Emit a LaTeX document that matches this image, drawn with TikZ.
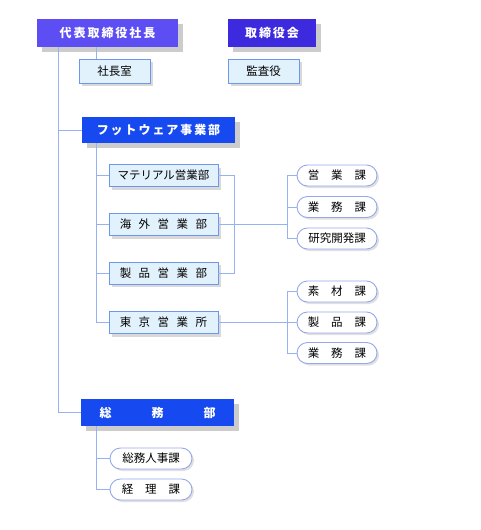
\documentclass[tikz,border=0pt]{standalone}
\usepackage{fontspec}
\setmainfont{Noto Sans CJK JP}
\newfontfamily\headfont[LetterSpace=16]{Noto Sans CJK JP}
\usetikzlibrary{shadows, positioning}

\definecolor{ceoViolet}{RGB}{92,78,242}
\definecolor{boardViolet}{RGB}{62,42,222}
\definecolor{divBlue}{RGB}{22,74,240}
\definecolor{paleFill}{RGB}{226,242,252}
\definecolor{paleEdge}{RGB}{110,150,234}
\definecolor{linkBlue}{RGB}{150,178,240}
\definecolor{roundEdge}{RGB}{150,168,236}

% gaps between spaced-out characters
\newcommand{\dgap}{\hspace{7.5pt}}
\newcommand{\sgap}{\hspace{12pt}}

\begin{document}
\begin{tikzpicture}[x=1pt, y=-1pt,
  headbox/.style={fill=#1, text=white, inner sep=0pt, minimum height=28pt,
    font=\headfont\bfseries\fontsize{12}{14}\selectfont,
    drop shadow={shadow xshift=5pt, shadow yshift=-5pt, fill=black!20, opacity=1}},
  palebox/.style={fill=paleFill, draw=paleEdge, line width=0.9pt, inner sep=0pt,
    minimum height=22pt, font=\fontsize{11.5}{13}\selectfont,
    drop shadow={shadow xshift=3pt, shadow yshift=-3pt, fill=black!15, opacity=1}},
  roundbox/.style={fill=white, draw=roundEdge, line width=0.9pt, rounded corners=10.5pt,
    inner sep=0pt, minimum width=80pt, minimum height=21pt, font=\fontsize{11.5}{13}\selectfont,
    drop shadow={shadow xshift=2pt, shadow yshift=-2pt, fill=black!12, opacity=1}},
  link/.style={draw=linkBlue, line width=0.9pt}]

\useasboundingbox (0,0) rectangle (480,530);

% Top management
\node[headbox=ceoViolet, minimum width=141pt] (ceo) at (107.5,32.5) {代表取締役社長};
\node[headbox=boardViolet, minimum width=88pt] (board) at (272,33) {取締役会};
\node[palebox, minimum width=71pt, minimum height=24pt] (office) at (114.5,71) {社長室};
\node[palebox, minimum width=71pt, minimum height=24pt] (audit) at (263.5,71) {監査役};

% Footwear division
\node[headbox=divBlue, minimum width=153pt, minimum height=26pt] (footwear) at (158.5,130) {フットウェア事業部};
\node[palebox, minimum width=109pt] (material) at (163.5,175.5) {マテリアル営業部};
\node[palebox, minimum width=109pt] (overseas) at (163.5,224.5) {海\dgap 外\dgap 営\dgap 業\dgap 部};
\node[palebox, minimum width=109pt] (product) at (163.5,273) {製\dgap 品\dgap 営\dgap 業\dgap 部};
\node[palebox, minimum width=109pt] (tokyo) at (163.5,322.5) {東\dgap 京\dgap 営\dgap 業\dgap 所};

% Sections
\node[roundbox] (salesA) at (337,175.5) {営\sgap 業\sgap 課};
\node[roundbox] (salesB) at (337,207) {業\sgap 務\sgap 課};
\node[roundbox] (salesC) at (337,238.5) {研究開発課};
\node[roundbox] (tokyoA) at (337,291.5) {素\sgap 材\sgap 課};
\node[roundbox] (tokyoB) at (337,322.5) {製\sgap 品\sgap 課};
\node[roundbox] (tokyoC) at (337,353) {業\sgap 務\sgap 課};

% General affairs
\node[headbox=divBlue, minimum width=153pt, minimum height=27pt] (general) at (157.5,412.5) {総\hspace{40pt}務\hspace{40pt}部};
\node[roundbox, minimum width=82pt] (hr) at (151,458.5) {総務人事課};
\node[roundbox, minimum width=82pt] (acct) at (151,489.5) {経\sgap 理\sgap 課};

% Draw links
\coordinate (trunk) at (58,0);
\coordinate (spine) at (96,0);
\coordinate (joinA) at (234,0);
\coordinate (joinB) at (287,0);

\draw[link] (ceo.south -| trunk) |- (general.west);
\draw[link] (trunk |- footwear.west) -- (footwear.west);
\draw[link] (spine |- ceo.south) -- (spine |- office.north);

\draw[link] (spine |- footwear.south) |- (tokyo.west);
\foreach \dept in {material, overseas, product}
  \draw[link] (spine |- \dept.west) -- (\dept.west);

\draw[link] (material.east) -| (joinA |- product.east) -- (product.east);
\draw[link] (overseas.east) -- (joinB |- overseas.east);
\draw[link] (joinB |- salesA.west) -- (joinB |- salesC.west);
\foreach \sec in {salesA, salesB, salesC}
  \draw[link] (joinB |- \sec.west) -- (\sec.west);

\draw[link] (tokyo.east) -- (joinB |- tokyo.east);
\draw[link] (joinB |- tokyoA.west) -- (joinB |- tokyoC.west);
\foreach \sec in {tokyoA, tokyoB, tokyoC}
  \draw[link] (joinB |- \sec.west) -- (\sec.west);

\draw[link] (spine |- general.south) |- (acct.west);
\draw[link] (spine |- hr.west) -- (hr.west);

\end{tikzpicture}
\end{document}
